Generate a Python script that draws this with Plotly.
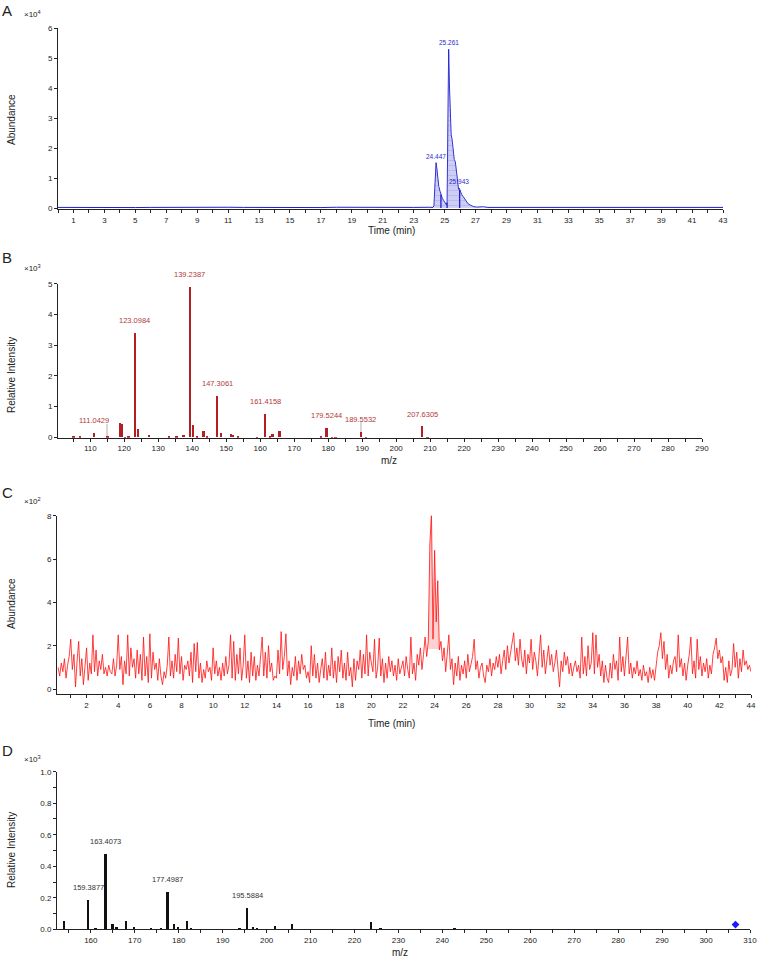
import plotly.graph_objects as go
import numpy as np

W, H = 757, 960
FONT = 'Liberation Sans, Arial, sans-serif'
INK = '#222222'

# ---------- A: total ion chromatogram (abundance, x10^4) ----------
a_time = [0, 1, 2, 3, 4, 5, 6, 7, 8, 9, 10, 11, 12, 13, 14, 15, 16, 17, 18, 19, 20, 21, 22, 23, 24,
          24.25, 24.31, 24.36, 24.447, 24.50, 24.55, 24.62, 24.70, 24.76, 24.85, 24.95, 25.05, 25.12,
          25.16, 25.20, 25.261, 25.31, 25.36, 25.42, 25.48, 25.55, 25.62, 25.69, 25.76, 25.84, 25.90,
          25.943, 26.00, 26.10, 26.20, 26.35, 26.50, 26.65, 26.85, 27.05, 27.3, 27.5, 27.8,
          28, 29, 30, 31, 32, 33, 34, 35, 36, 37, 38, 39, 40, 41, 42, 43]
a_abund = [0.02, 0.015, 0.025, 0.02, 0.025, 0.015, 0.02, 0.025, 0.02, 0.015, 0.02, 0.025, 0.02, 0.015,
           0.025, 0.02, 0.02, 0.015, 0.025, 0.02, 0.025, 0.02, 0.015, 0.02, 0.025,
           0.02, 0.08, 0.6, 1.51, 1.30, 0.95, 0.72, 0.56, 0.45, 0.32, 0.24, 0.14, 0.10,
           0.18, 2.4, 5.29, 4.1, 3.0, 2.45, 2.29, 1.95, 1.62, 1.54, 1.20, 0.85, 0.62,
           0.66, 0.55, 0.45, 0.38, 0.24, 0.15, 0.10, 0.05, 0.03, 0.035, 0.04, 0.02,
           0.02, 0.015, 0.025, 0.02, 0.015, 0.02, 0.025, 0.02, 0.015, 0.02, 0.025, 0.02, 0.015, 0.02, 0.025, 0.02]
a_peak_time = [24.447, 25.261, 25.943]
a_peak_label = ['24.447', '25.261', '25.943']
a_drop_time = [24.76, 25.16, 25.97]
a_fill_span = [24.31, 27.05]

# ---------- B: mass spectrum (x10^3) ----------
b_mz = [105.0, 107.0, 111.0429, 115.1, 118.8, 119.2, 120.2, 121.2, 123.0984, 124.1, 127.3, 133.2,
        135.4, 137.4, 139.2387, 140.3, 141.3, 143.3, 144.4, 147.3061, 148.4, 151.4, 152.0, 153.5,
        159.0, 161.4158, 162.9, 163.6, 165.7, 177.9, 179.5244, 181.1, 182.1, 189.5532, 191.1,
        207.6305, 209.2]
b_int = [0.03, 0.02, 0.14, 0.03, 0.47, 0.44, 0.01, 0.02, 3.40, 0.27, 0.065, 0.05,
         0.03, 0.065, 4.90, 0.41, 0.02, 0.22, 0.02, 1.36, 0.15, 0.10, 0.09, 0.02,
         0.01, 0.77, 0.03, 0.12, 0.21, 0.03, 0.32, 0.01, 0.01, 0.19, 0.01,
         0.36, 0.01]
b_labels = [111.0429, 123.0984, 139.2387, 147.3061, 161.4158, 179.5244, 189.5532, 207.6305]
b_lead_mz = [115.1, 189.9]
b_lead_int = [0.45, 0.50]

# ---------- C: extracted ion chromatogram (x10^2), sampled every 0.1 min from 0.2 ----------
c_abund = [
    1.0, 0.6, 1.2, 0.8, 1.4, 0.5, 1.1, 1.5,
    2.3, 0.9, 1.6, 0.1, 1.3, 2.2, 0.6, 1.4, 0.2, 1.0,
    1.9, 0.4, 1.2, 0.7, 2.5, 0.8, 1.8, 0.6, 1.3, 0.9,
    1.6, 0.7, 1.0, 0.6, 1.1, 0.8, 0.7, 1.4, 0.6, 1.1,
    2.5, 0.9, 1.5, 0.2, 1.3, 0.7, 2.5, 0.6, 1.9, 1.0,
    1.4, 0.5, 1.8, 0.7, 1.6, 0.4, 2.4, 0.6, 1.5, 0.3,
    2.55, 0.5, 1.7, 0.9, 1.2, 0.4, 1.4, 0.6, 0.2, 0.8,
    0.5, 1.1, 2.4, 0.6, 1.3, 0.5, 1.6, 0.8, 2.35, 0.7,
    1.5, 0.4, 1.1, 0.9, 1.3, 0.6, 1.7, 0.3, 2.1, 0.8,
    2.15, 0.5, 1.2, 0.3, 0.9, 0.5, 1.3, 0.8, 1.0, 0.4,
    1.9, 0.7, 1.3, 0.6, 1.0, 0.4, 1.2, 0.6, 1.5, 0.7,
    1.1, 2.5, 0.5, 2.2, 0.4, 1.6, 0.7, 1.9, 0.4, 1.1,
    2.5, 0.5, 1.3, 0.3, 1.7, 0.6, 1.5, 0.4, 1.1, 0.6,
    1.4, 2.4, 0.6, 1.7, 0.5, 2.0, 0.8, 1.2, 0.4, 0.6,
    0.5, 1.8, 0.7, 2.65, 0.9, 1.5, 2.55, 0.6, 1.3, 0.2,
    1.0, 0.6, 1.5, 0.4, 1.3, 0.7, 1.6, 0.9, 1.1, 0.5,
    0.8, 0.3, 2.0, 0.6, 1.6, 0.5, 1.2, 0.3, 0.9, 1.4,
    0.5, 1.7, 0.4, 1.1, 0.6, 1.9, 0.5, 1.3, 0.3, 1.5,
    0.8, 1.8, 0.5, 1.2, 0.4, 1.7, 0.6, 1.0, 0.1, 1.4,
    0.4, 1.3, 0.9, 1.8, 0.5, 1.6, 0.7, 2.5, 0.6, 1.7,
    1.2, 0.8, 2.3, 0.5, 1.0, 2.35, 0.6, 1.4, 0.3, 1.2,
    0.5, 1.5, 0.8, 1.3, 0.6, 1.1, 0.4, 1.4, 0.7, 1.0,
    1.3, 0.6, 1.5, 0.9, 0.5, 2.4, 0.7, 1.2, 0.4, 1.6,
    1.1, 1.9, 0.9, 1.6, 2.4, 1.5, 2.2, 6.7, 8.1, 2.3,
    6.4, 3.1, 5.0, 1.8, 2.2, 1.3, 1.9, 0.8, 1.5, 2.5,
    0.9, 1.4, 0.2, 1.2, 0.6, 1.5, 0.4, 1.1, 0.7, 1.3,
    0.5, 1.6, 0.8, 1.2, 1.5, 2.3, 0.9, 1.3, 0.5, 1.0,
    1.2, 0.6, 0.3, 1.1, 0.8, 1.4, 0.6, 1.2, 0.9, 1.5,
    1.0, 1.6, 0.7, 1.3, 1.8, 0.9, 2.0, 1.2, 1.7, 2.2,
    2.6, 1.3, 1.9, 1.1, 2.3, 1.4, 1.0, 1.8, 0.7, 1.6,
    1.2, 2.3, 0.9, 1.7, 1.3, 0.6, 1.5, 2.5, 1.0, 1.8,
    0.7, 1.4, 2.0, 1.1, 1.6, 0.8, 1.2, 1.8, 0.9, 0.1,
    1.3, 0.8, 1.7, 1.1, 1.5, 0.7, 1.2, 0.6, 1.0, 1.3,
    0.8, 1.1, 0.5, 2.4, 0.7, 1.5, 0.6, 2.0, 0.9, 1.2,
    2.6, 0.7, 2.5, 1.0, 1.6, 0.6, 1.3, 0.3, 1.1, 0.5,
    0.3, 1.2, 0.5, 1.6, 0.9, 1.3, 0.4, 2.4, 0.8, 1.5,
    0.6, 1.4, 2.4, 0.7, 1.2, 0.5, 1.0, 0.7, 1.3, 0.6,
    0.9, 0.4, 1.1, 0.6, 0.8, 0.3, 1.0, 0.5, 0.9, 0.4,
    1.2, 1.7, 2.0, 2.6, 1.4, 2.2, 0.9, 1.6, 0.5, 1.1,
    0.7, 1.3, 1.5, 0.8, 2.5, 1.0, 1.4, 0.6, 1.2, 0.4,
    1.1, 1.6, 2.4, 0.7, 1.3, 0.5, 2.3, 0.9, 1.5, 0.6,
    1.2, 0.8, 1.4, 0.5, 1.1, 0.7, 1.6, 1.9, 2.35, 1.4,
    1.8, 1.2, 1.5, 0.4, 1.0, 0.3, 1.3, 0.6, 0.9, 2.1,
    1.0, 1.7, 0.5, 1.4, 0.8, 1.8, 1.1, 1.3, 0.9, 1.1,
    0.8,
]
c_start, c_step = 0.2, 0.1
c_time = [round(c_start + c_step * i, 2) for i in range(len(c_abund))]
c_peak_time = 23.778
c_fill_span = [23.6, 24.3]
c_fill_base = 1.85

# ---------- D: mass spectrum (x10^3) ----------
d_mz = [153.9, 159.3877, 161.1, 163.4073, 165.0, 165.9, 168.0, 169.8, 173.8, 176.0, 177.4987,
        178.9, 179.9, 182.0, 182.9, 193.9, 195.5884, 196.9, 197.8, 201.9, 205.9, 223.8, 226.0, 242.8]
d_int = [0.053, 0.19, 0.013, 0.48, 0.034, 0.015, 0.053, 0.017, 0.008, 0.008, 0.237,
         0.036, 0.015, 0.053, 0.008, 0.01, 0.14, 0.015, 0.006, 0.02, 0.034, 0.047, 0.005, 0.004]
d_labels = [159.3877, 163.4073, 177.4987, 195.5884]
d_marker = [306.7, 0.03]


def px(x):
    return x / W


def py(y):
    return 1 - y / H


fig = go.Figure()

# A
fig.add_trace(go.Scatter(x=a_time, y=a_abund, mode='lines', line=dict(color='#1e1ecf', width=1),
                         xaxis='x', yaxis='y', showlegend=False))
sel = [i for i, t in enumerate(a_time) if a_fill_span[0] <= t <= a_fill_span[1]]
fig.add_trace(go.Scatter(x=[a_time[i] for i in sel], y=[a_abund[i] for i in sel], mode='lines',
                         line=dict(width=0), fill='tozeroy', fillcolor='rgba(110,110,225,0.45)',
                         fillpattern=dict(shape='-', fgcolor='rgba(60,60,190,0.35)',
                                          bgcolor='rgba(130,130,230,0.40)', size=5, solidity=0.15),
                         xaxis='x', yaxis='y', showlegend=False, hoverinfo='skip'))
drop_x, drop_y = [], []
for t in a_drop_time:
    drop_x += [t, t, None]
    drop_y += [0, float(np.interp(t, a_time, a_abund)), None]
fig.add_trace(go.Scatter(x=drop_x, y=drop_y, mode='lines', line=dict(color='#1e1ecf', width=1.3),
                         xaxis='x', yaxis='y', showlegend=False, hoverinfo='skip'))

# B
fig.add_trace(go.Bar(x=b_lead_mz, y=b_lead_int, width=0.35, marker=dict(color='#d8d8d8', line=dict(width=0)),
                     xaxis='x2', yaxis='y2', showlegend=False))
fig.add_trace(go.Bar(x=b_mz, y=b_int, width=0.55, marker=dict(color='#b21f24', line=dict(width=0)),
                     xaxis='x2', yaxis='y2', showlegend=False))

# C
csel = [i for i, t in enumerate(c_time) if c_fill_span[0] - 1e-6 <= t <= c_fill_span[1] + 1e-6]
cx = [c_time[i] for i in csel]
cy = [c_abund[i] for i in csel]
fig.add_trace(go.Scatter(x=cx + cx[::-1], y=cy + [c_fill_base] * len(cx), mode='lines',
                         line=dict(width=0), fill='toself', fillcolor='rgba(255,120,120,0.35)',
                         xaxis='x3', yaxis='y3', showlegend=False, hoverinfo='skip'))
fig.add_trace(go.Scatter(x=c_time, y=c_abund, mode='lines', line=dict(color='#ff1010', width=0.8),
                         xaxis='x3', yaxis='y3', showlegend=False))

# D
fig.add_trace(go.Bar(x=d_mz, y=d_int, width=0.4, marker=dict(color='#111111', line=dict(width=0)),
                     xaxis='x4', yaxis='y4', showlegend=False))
fig.add_trace(go.Scatter(x=[d_marker[0]], y=[d_marker[1]], mode='markers',
                         marker=dict(symbol='diamond', size=6, color='#1a1aff'),
                         xaxis='x4', yaxis='y4', showlegend=False))

AX = dict(showline=True, linecolor=INK, linewidth=1, ticks='outside', ticklen=3, tickwidth=1,
          tickcolor=INK, showgrid=False, zeroline=False, automargin=False, ticklabeloverflow='allow',
          tickfont=dict(size=8, color=INK, family=FONT))
MINOR = dict(ticks='outside', ticklen=3, tickcolor=INK, showgrid=False)

fig.update_layout(
    width=W, height=H, margin=dict(l=0, r=0, t=0, b=0, autoexpand=False),
    plot_bgcolor='white', paper_bgcolor='white', bargap=0,
    font=dict(family=FONT, color=INK),
    xaxis=dict(AX, domain=[px(58), px(723)], range=[0, 43], tickvals=list(range(1, 44, 2)),
               minor=dict(MINOR, dtick=1, tick0=0), anchor='y'),
    yaxis=dict(AX, domain=[py(209), py(28)], range=[-0.033, 6], tickvals=list(range(0, 7)), anchor='x'),
    xaxis2=dict(AX, domain=[px(58), px(702)], range=[100.5, 290], dtick=10, tick0=0,
                minor=dict(MINOR, dtick=5, tick0=0), anchor='y2'),
    yaxis2=dict(AX, domain=[py(437.7), py(283.7)], range=[-0.02, 5], dtick=1, anchor='x2'),
    xaxis3=dict(AX, domain=[px(57), px(751)], range=[0.13, 44], dtick=2, tick0=0,
                minor=dict(MINOR, dtick=1, tick0=0), anchor='y3'),
    yaxis3=dict(AX, domain=[py(694), py(515.7)], range=[-0.23, 8], dtick=2, tick0=0, anchor='x3'),
    xaxis4=dict(AX, domain=[px(57), px(750)], range=[152.3, 310], dtick=10, tick0=0,
                minor=dict(MINOR, dtick=5, tick0=0), anchor='y4'),
    yaxis4=dict(AX, domain=[py(929.3), py(771.7)], range=[0, 1.0], dtick=0.2, tick0=0,
                tickformat='.1f', minor=dict(MINOR, dtick=0.1, tick0=0), anchor='x4'),
)

ann = []


def paper_text(text, x, y, size, angle=0, color=INK, yanchor='middle'):
    ann.append(dict(text=text, x=px(x), y=py(y), xref='paper', yref='paper', showarrow=False,
                    xanchor='center', yanchor=yanchor, textangle=angle,
                    font=dict(size=size, color=color, family=FONT)))


# panel letters and multipliers
for letter, y in [('A', 0), ('B', 247), ('C', 482), ('D', 740)]:
    paper_text(letter, 7, y, 15, yanchor='top')
for mult, y in [('×10<sup>4</sup>', 14), ('×10<sup>3</sup>', 268), ('×10<sup>2</sup>', 501), ('×10<sup>3</sup>', 759)]:
    paper_text(mult, 32, y, 8)

# axis titles
paper_text('Abundance', 11, 120, 10, -90)
paper_text('Time (min)', 391, 231, 10)
paper_text('Relative Intensity', 11, 375, 10, -90)
paper_text('m/z', 389, 460, 10)
paper_text('Abundance', 11, 604, 10, -90)
paper_text('Time (min)', 391, 723, 10)
paper_text('Relative Intensity', 11, 850, 10, -90)
paper_text('m/z', 400, 952, 10)

# peak labels
for t, lab in zip(a_peak_time, a_peak_label):
    ann.append(dict(text=lab, x=t, y=float(np.interp(t, a_time, a_abund)), xref='x', yref='y',
                    showarrow=False, yanchor='bottom', yshift=1,
                    font=dict(size=6.5, color='#2b2bd0', family=FONT)))
for m in b_labels:
    ann.append(dict(text=f'{m:.4f}', x=m, y=b_int[b_mz.index(m)], xref='x2', yref='y2',
                    showarrow=False, yanchor='middle', yshift=12,
                    font=dict(size=7.5, color='#b23a3a', family=FONT)))
ann.append(dict(text=f'{c_peak_time:.3f}', x=c_peak_time, y=max(c_abund), xref='x3', yref='y3',
                showarrow=False, yanchor='bottom', yshift=1,
                font=dict(size=6.5, color='#ff2020', family=FONT)))
for m in d_labels:
    ann.append(dict(text=f'{m:.4f}', x=m, y=d_int[d_mz.index(m)], xref='x4', yref='y4',
                    showarrow=False, yanchor='middle', yshift=12,
                    font=dict(size=7.5, color='#333333', family=FONT)))

fig.update_layout(annotations=ann)
# the page body has a default 8px margin; drop it so the figure sits at the window origin
fig.write_html("out.html", config={'displayModeBar': False},
               post_script="document.body.style.margin='0';")
